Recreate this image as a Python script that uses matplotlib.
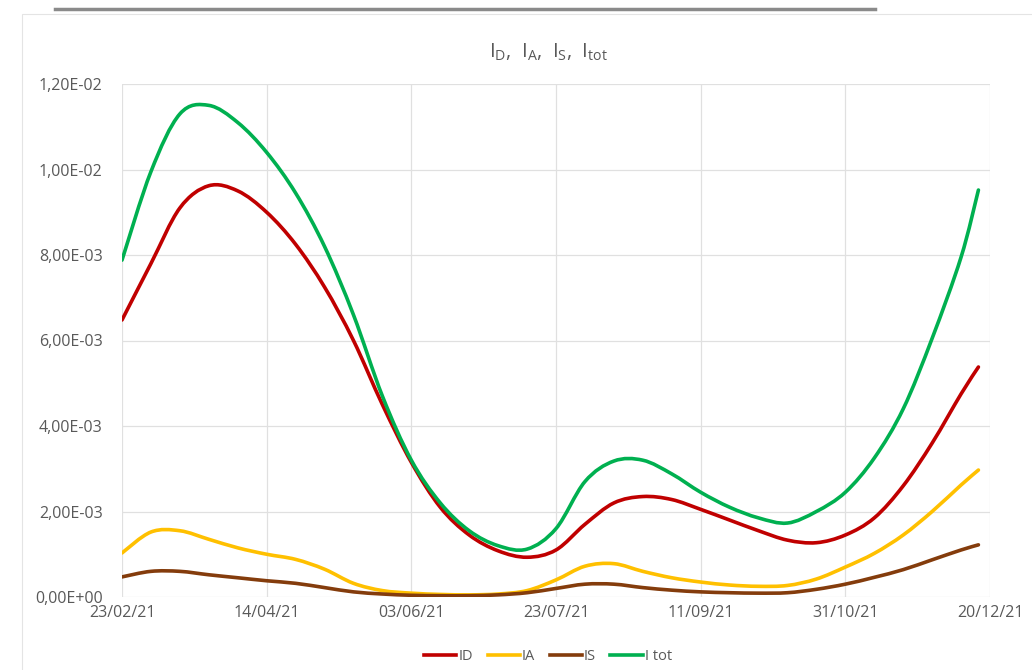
import numpy as np
import matplotlib
matplotlib.use("Agg")
import matplotlib.pyplot as plt
import matplotlib.dates as mdates
from matplotlib.path import Path
from matplotlib.patches import PathPatch, Rectangle
from matplotlib.lines import Line2D
import datetime as dt

# days after 23/02/21
days = [0, 10, 20, 30, 40, 50, 60, 70, 80, 90, 100, 110, 120, 130, 140, 150,
        160, 170, 180, 190, 200, 210, 220, 230, 240, 250, 260, 270, 280, 290, 296]

# values in units of 1e-3
i_d = [6.48, 7.8, 9.1, 9.62, 9.5, 9.0, 8.25, 7.25, 6.0, 4.5, 3.15, 2.1, 1.45, 1.08, 0.93, 1.1,
       1.7, 2.2, 2.35, 2.28, 2.05, 1.8, 1.55, 1.33, 1.27, 1.45, 1.85, 2.6, 3.6, 4.75, 5.38]
i_a = [1.03, 1.52, 1.55, 1.35, 1.15, 1.0, 0.88, 0.65, 0.32, 0.15, 0.09, 0.06, 0.05, 0.07, 0.15, 0.4,
       0.72, 0.78, 0.6, 0.45, 0.35, 0.28, 0.25, 0.27, 0.42, 0.7, 1.02, 1.45, 2.0, 2.62, 2.97]
i_s = [0.47, 0.6, 0.6, 0.52, 0.45, 0.38, 0.32, 0.22, 0.12, 0.07, 0.04, 0.03, 0.03, 0.05, 0.1, 0.2,
       0.3, 0.3, 0.22, 0.16, 0.12, 0.1, 0.09, 0.1, 0.18, 0.3, 0.46, 0.64, 0.87, 1.1, 1.22]
i_tot = [7.88, 9.95, 11.3, 11.5, 11.1, 10.4, 9.45, 8.2, 6.6, 4.7, 3.2, 2.2, 1.55, 1.2, 1.12, 1.6,
         2.7, 3.18, 3.2, 2.88, 2.45, 2.1, 1.85, 1.73, 2.0, 2.45, 3.25, 4.4, 6.05, 7.95, 9.52]

labels = ["ID", "IA", "IS", "I tot"]
colors = ["#C00000", "#FFC000", "#843C0C", "#00B050"]

start = dt.date(2021, 2, 23)
x = np.array([mdates.date2num(start + dt.timedelta(days=d)) for d in days])


def smooth_path(xs, ys, t=1 / 6):
    # cubic bezier through the points (like excel "smoothed line")
    verts = [(xs[0], ys[0])]
    codes = [Path.MOVETO]
    n = len(xs)
    for i in range(n - 1):
        p0 = np.array([xs[max(i - 1, 0)], ys[max(i - 1, 0)]])
        p1 = np.array([xs[i], ys[i]])
        p2 = np.array([xs[i + 1], ys[i + 1]])
        p3 = np.array([xs[min(i + 2, n - 1)], ys[min(i + 2, n - 1)]])
        c1 = p1 + (p2 - p0) * t
        c2 = p2 - (p3 - p1) * t
        verts += [tuple(c1), tuple(c2), tuple(p2)]
        codes += [Path.CURVE4] * 3
    return Path(verts, codes)


plt.rcParams['font.family'] = ['Open Sans', 'DejaVu Sans']
fig = plt.figure(figsize=(10.32, 6.70), dpi=100)

# top grey line and faint chart border
fig.add_artist(Line2D([55 / 1032, 875 / 1032], [1 - 9 / 670, 1 - 9 / 670],
                      color="#8a8a8a", lw=2.5, transform=fig.transFigure))
fig.add_artist(Rectangle((22 / 1032, -0.01), 1.0, 1 - 14 / 670 + 0.01, fill=False,
                         edgecolor="#e4e4e4", lw=0.8, transform=fig.transFigure))

ax = fig.add_axes([122 / 1032, 1 - 597 / 670, 868 / 1032, 513 / 670])

for ys, c in zip([i_d, i_a, i_s, i_tot], colors):
    p = smooth_path(x, np.array(ys) * 1e-3)
    ax.add_patch(PathPatch(p, fill=False, edgecolor=c, lw=2.6, capstyle="round"))

x0 = mdates.date2num(start)
ax.set_xlim(x0, x0 + 300)
ax.set_ylim(0, 0.012)
ax.set_xticks([x0 + 50 * k for k in range(7)])
ax.xaxis.set_major_formatter(mdates.DateFormatter("%d/%m/%y"))
ax.set_yticks(np.arange(0, 0.0121, 0.002))
ax.yaxis.set_major_formatter(plt.FuncFormatter(lambda v, p: f"{v:.2E}".replace(".", ",")))

ax.grid(True, color="#e0e0e0", lw=0.9)
ax.set_axisbelow(True)
for s in ax.spines.values():
    s.set_visible(False)
ax.tick_params(length=0, labelsize=11.5, colors="#595959")
ax.tick_params(axis="y", pad=14)
ax.tick_params(axis="x", pad=6)

fig.text(548 / 1032, 1 - 52 / 670, r"$\mathregular{I_{D},\ I_{A},\ I_{S},\ I_{tot}}$",
         ha="center", va="center", fontsize=14.5, color="#595959")

handles = [Line2D([], [], color=c, lw=2.6) for c in colors]
fig.legend(handles, labels, loc="center", bbox_to_anchor=(548 / 1032, 1 - 657 / 670),
           ncol=4, frameon=False, fontsize=10.5, labelcolor="#595959",
           handlelength=2.2, handletextpad=0.15, columnspacing=1.0)

fig.savefig("out.png", dpi=100)
